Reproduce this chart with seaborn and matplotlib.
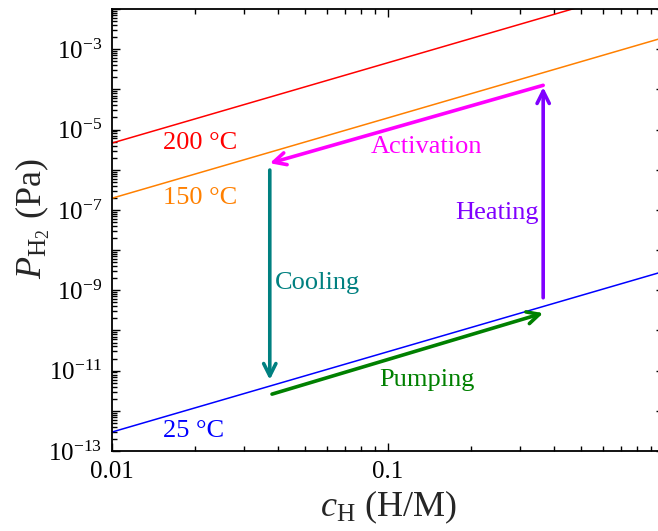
import numpy as np
import pandas as pd
import seaborn as sns
import matplotlib
matplotlib.use("Agg")
import matplotlib.pyplot as plt
from matplotlib.ticker import FixedLocator, LogLocator, FuncFormatter, NullFormatter

# Sieverts isotherms: hydrogen pressure vs. concentration (end points of each line)
c_ends = [0.01, 1.0]
p_200C = [4.6e-6, 4.6e-2]
p_150C = [1.95e-7, 1.95e-3]
p_25C = [2.96e-13, 2.96e-9]

temp_labels = ["200 °C", "150 °C", "25 °C"]
temp_colors = ["#FF0000", "#FF8000", "#0000FF"]
temp_label_pos = [(0.0209, 4.6e-6), (0.0209, 1.95e-7), (0.0198, 3.1e-13)]

# Process cycle arrows: (start c, start P) -> (end c, end P)
activation = [(0.365, 1.26e-4), (0.0373, 1.45e-6)]
cooling = [(0.0373, 9.8e-7), (0.0373, 5.9e-12)]
pumping = [(0.038, 2.6e-12), (0.365, 2.7e-10)]
heating = [(0.365, 6.5e-10), (0.365, 1.13e-4)]

step_names = ["Activation", "Cooling", "Pumping", "Heating"]
step_colors = ["#FF00FF", "#008080", "#008000", "#8000FF"]
step_label_pos = [(0.138, 3.6e-6), (0.0557, 1.5e-9), (0.138, 5.9e-12), (0.248, 8.3e-8)]

x_tick_vals = [0.01, 0.1, 1.0]
x_tick_text = ["0.01", "0.1", ""]

sns.set_style("ticks")
plt.rcParams["font.family"] = ["Liberation Serif", "DejaVu Serif"]
plt.rcParams["mathtext.fontset"] = "custom"
plt.rcParams["mathtext.rm"] = "Liberation Serif"
plt.rcParams["mathtext.it"] = "Liberation Serif:italic"
plt.rcParams["mathtext.bf"] = "Liberation Serif:bold"

fig = plt.figure(figsize=(6.58, 5.31), dpi=100)
ax = fig.add_axes([0.1702, 0.1507, 0.8389, 0.8324])

df = pd.DataFrame({
    "c": c_ends * 3,
    "P": p_200C + p_150C + p_25C,
    "T": [temp_labels[0]] * 2 + [temp_labels[1]] * 2 + [temp_labels[2]] * 2,
})
sns.lineplot(data=df, x="c", y="P", hue="T", palette=dict(zip(temp_labels, temp_colors)),
             linewidth=1.1, legend=False, ax=ax)

ax.set_xscale("log")
ax.set_yscale("log")
ax.set_xlim(0.01, 1.0)
ax.set_ylim(1e-13, 1e-2)

for lab, col, (x, y) in zip(temp_labels, temp_colors, temp_label_pos):
    ax.text(x, y, lab, color=col, fontsize=19, ha="center", va="center")

for (start, end), col in zip([activation, cooling, pumping, heating], step_colors):
    ax.annotate("", xy=end, xytext=start,
                arrowprops=dict(arrowstyle="->", color=col, lw=2.6,
                                mutation_scale=22, shrinkA=0, shrinkB=0))

for name, col, (x, y) in zip(step_names, step_colors, step_label_pos):
    ax.text(x, y, name, color=col, fontsize=19, ha="center", va="center")

# Ticks: every decade on y, labels only on odd exponents
ax.yaxis.set_major_locator(FixedLocator([10.0 ** e for e in range(-13, -1)]))
ax.yaxis.set_minor_locator(LogLocator(base=10, subs=np.arange(2, 10), numticks=30))


def ylab(v, pos):
    e = int(round(np.log10(v)))
    return r"$\mathregular{10^{%d}}$" % e if e % 2 != 0 else ""


ax.yaxis.set_major_formatter(FuncFormatter(ylab))
ax.yaxis.set_minor_formatter(NullFormatter())
ax.set_xticks(x_tick_vals)
ax.set_xticklabels(x_tick_text)
ax.xaxis.set_minor_locator(LogLocator(base=10, subs=np.arange(2, 10), numticks=30))
ax.xaxis.set_minor_formatter(NullFormatter())

ax.tick_params(which="both", direction="in", top=True, right=True, width=1.0, colors="black")
ax.tick_params(which="major", length=6, labelsize=18, pad=7)
ax.tick_params(which="minor", length=3.3)
for s in ax.spines.values():
    s.set_linewidth(1.3)
    s.set_color("black")

ax.set_xlabel(r"$c_{\mathrm{H}}$ (H/M)", fontsize=26, labelpad=4)
ax.set_ylabel(r"$P_{\mathrm{H}_2}$ (Pa)", fontsize=26)
ax.yaxis.set_label_coords(-0.109, 0.525)

fig.savefig("out.png", dpi=100)
